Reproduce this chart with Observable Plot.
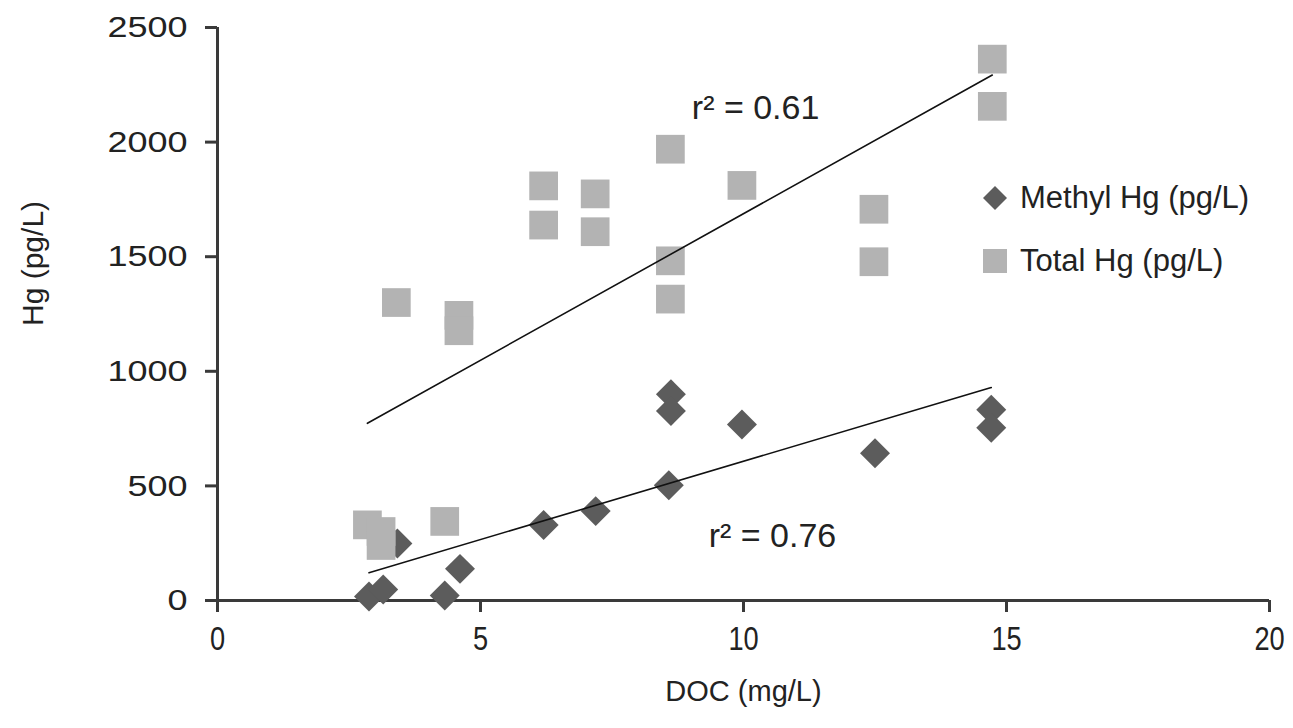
<!DOCTYPE html>
<html>
<head>
<meta charset="utf-8">
<script src="https://cdn.jsdelivr.net/npm/d3@7"></script>
<script src="https://cdn.jsdelivr.net/npm/@observablehq/plot@0.6"></script>
<style>
  html, body { margin: 0; padding: 0; background: #fff; }
  #wrap { position: relative; width: 1293px; height: 728px; font-family: "Liberation Sans", Arial, sans-serif; }
  .leg { position: absolute; display: flex; align-items: center; font-size: 31px; color: #222; white-space: nowrap; }
  .leg svg { margin-right: 11px; }
</style>
</head>
<body>
<div id="wrap">
  <div id="chart"></div>
  <div class="leg" style="left:981px; top:180px;">
    <svg width="28" height="28" viewBox="-14 -14 28 28"><path d="M0,-12L12,0L0,12L-12,0Z" fill="#5c5c5c"/></svg>
    <span>Methyl Hg (pg/L)</span>
  </div>
  <div class="leg" style="left:981px; top:243px;">
    <svg width="28" height="28" viewBox="-14 -14 28 28"><rect x="-12" y="-12" width="24" height="24" fill="#b3b3b3"/></svg>
    <span>Total Hg (pg/L)</span>
  </div>
</div>
<script>
// ---- data ----
const methylDOC = [2.88, 3.15, 3.42, 4.32, 4.61, 6.2, 7.19, 8.58, 8.62, 8.62, 9.97, 12.5, 14.71, 14.71];
const methylHg  = [17, 48, 249, 22, 138, 329, 390, 503, 900, 827, 768, 642, 832, 754];

const totalDOC = [2.85, 3.11, 3.11, 4.32, 3.40, 4.59, 4.59, 6.2, 6.2, 7.18, 7.18, 8.61, 8.61, 8.61, 9.97, 12.48, 12.48, 14.73, 14.73];
const totalHg  = [330, 301, 240, 345, 1300, 1244, 1177, 1809, 1638, 1774, 1609, 1969, 1482, 1315, 1811, 1707, 1478, 2362, 2156];

const xTicks = [0, 5, 10, 15, 20];
const yTicks = [0, 500, 1000, 1500, 2000, 2500];

const annoText = ["r² = 0.61", "r² = 0.76"];
const annoDOC  = [10.23, 10.55];
const annoHg   = [2150, 282];

const xLabel = "DOC (mg/L)";
const yLabel = "Hg (pg/L)";

// ---- build tables ----
const methyl = methylDOC.map((x, i) => ({x, y: methylHg[i]}));
const total = totalDOC.map((x, i) => ({x, y: totalHg[i]}));
const annos = annoText.map((t, i) => ({t, x: annoDOC[i], y: annoHg[i]}));

const axisColor = "#3a3a3a";

const chart = Plot.plot({
  width: 1293,
  height: 728,
  marginLeft: 217,
  marginRight: 24,
  marginTop: 27,
  marginBottom: 128,
  x: {domain: [0, 20]},
  y: {domain: [0, 2500]},
  style: {fontFamily: "'Liberation Sans', Arial, sans-serif", background: "#fff", color: "#222", overflow: "visible"},
  marks: [
    Plot.axisY({ticks: yTicks, tickSize: 12, tickPadding: 18, tickFormat: "d", fontSize: 30, label: null, stroke: axisColor, strokeWidth: 3, fill: "#222"}),
    Plot.axisX({ticks: xTicks, tickSize: 12, tickPadding: 13, tickFormat: "d", fontSize: 34, label: null, stroke: axisColor, strokeWidth: 3, fill: "#222"}),
    Plot.ruleX([0], {stroke: axisColor, strokeWidth: 3}),
    Plot.ruleY([0], {stroke: axisColor, strokeWidth: 3}),
    Plot.dot(methyl, {x: "x", y: "y", symbol: "diamond2", r: 13.5, fill: "#5c5c5c", stroke: "none"}),
    Plot.dot(total, {x: "x", y: "y", symbol: "square", r: 16.2, fill: "#b3b3b3", stroke: "none"}),
    Plot.linearRegressionY(total, {x: "x", y: "y", stroke: "#111", strokeWidth: 1.6, ci: 0}),
    Plot.linearRegressionY(methyl, {x: "x", y: "y", stroke: "#111", strokeWidth: 1.6, ci: 0}),
    Plot.text(annos, {x: "x", y: "y", text: "t", fontSize: 34, fill: "#222"}),
    Plot.text([xLabel], {frameAnchor: "bottom", dy: 100, fontSize: 29, fill: "#222"}),
    Plot.text([yLabel], {frameAnchor: "left", dx: -184, dy: 12, rotate: -90, fontSize: 30, fill: "#222"})
  ]
});
document.getElementById("chart").appendChild(chart);

// widen the y tick labels and narrow/enlarge the x tick labels like the original artwork
function restyle(sel, sx, size) {
  const g = d3.select(chart).selectAll(sel);
  g.style("font-size", size);
  g.selectAll("text").each(function () {
    const t = this.getAttribute("transform") || "";
    this.setAttribute("transform", t + ` scale(${sx},1)`);
  });
}
restyle('g[aria-label="y-axis tick label"]', 1.2, "30px");
restyle('g[aria-label="x-axis tick label"]', 0.8, "34px");
</script>
</body>
</html>
